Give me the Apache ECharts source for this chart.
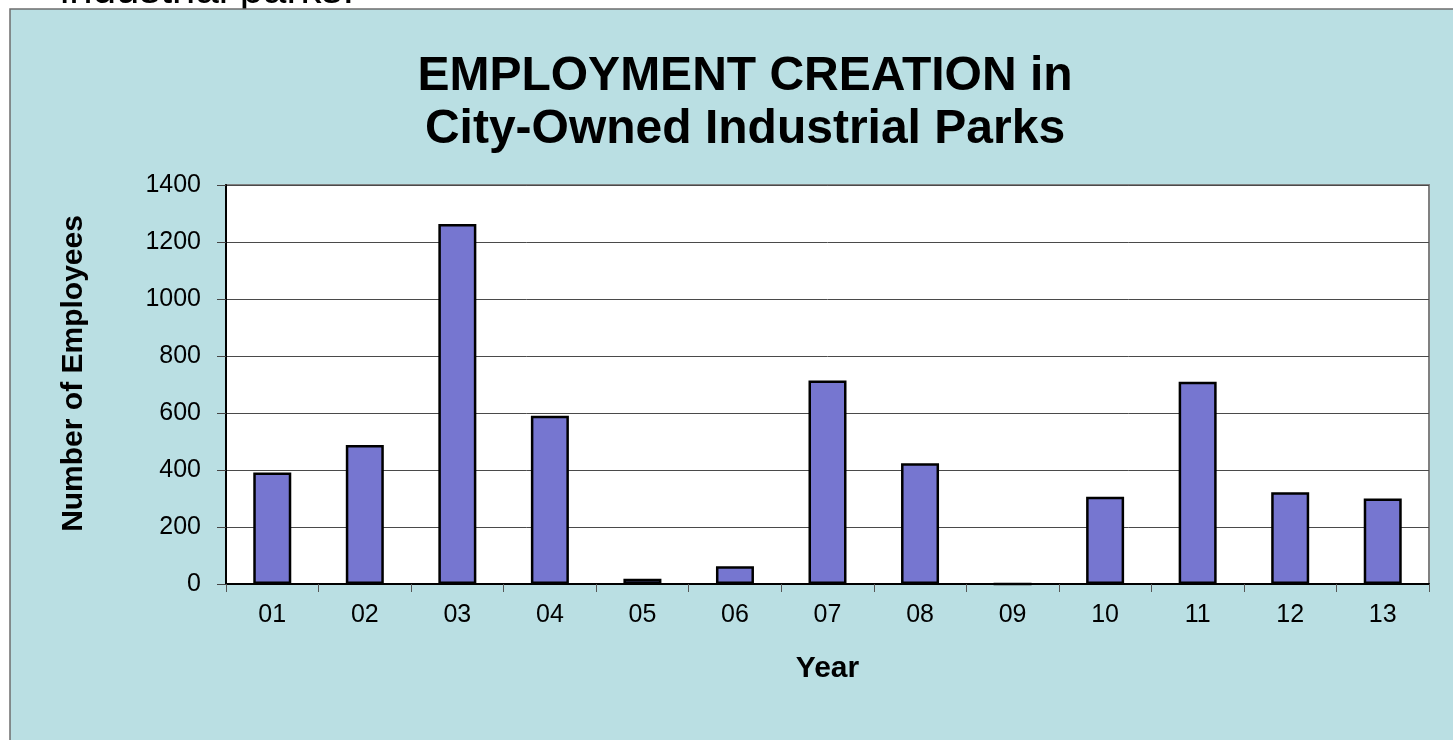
<!DOCTYPE html>
<html>
<head>
<meta charset="utf-8">
<script src="https://cdn.jsdelivr.net/npm/echarts@6/dist/echarts.min.js"></script>
<style>
  html, body { margin: 0; padding: 0; background: #ffffff; }
  #chart { width: 1453px; height: 740px; }
</style>
</head>
<body>
<div id="chart"></div>
<script>
const years = ['01', '02', '03', '04', '05', '06', '07', '08', '09', '10', '11', '12', '13'];
const employees = [391, 488, 1263, 590, 18, 62, 714, 424, 0, 306, 710, 322, 300];
const yTicks = { min: 0, max: 1400, interval: 200 };
const titleLines = ['EMPLOYMENT CREATION in', 'City-Owned Industrial Parks'];
const yName = 'Number of Employees';
const xName = 'Year';
const topText = 'industrial parks.';

const FONT = '"Liberation Sans", Arial, Helvetica, sans-serif';

const chart = echarts.init(document.getElementById('chart'), null, { renderer: 'canvas' });
chart.setOption({
  backgroundColor: '#ffffff',
  animation: false,
  graphic: [
    {
      type: 'text', z: -20, silent: true,
      style: { x: 60, y: 12, text: topText, fontFamily: FONT, fontSize: 42, fill: '#000', verticalAlign: 'bottom' }
    },
    {
      type: 'rect', z: -10, silent: true,
      shape: { x: 10, y: 9, width: 1460, height: 760 },
      style: { fill: '#BADFE3', stroke: '#6e6e6e', lineWidth: 1.5 }
    }
  ],
  title: {
    text: titleLines.join('\n'),
    left: 745,
    textAlign: 'center',
    top: 50,
    padding: 0,
    textStyle: { fontFamily: FONT, fontSize: 48, fontWeight: 'bold', color: '#000', lineHeight: 53 }
  },
  grid: {
    left: 226, top: 185, right: 24, bottom: 156,
    show: true, backgroundColor: '#ffffff', borderColor: '#808080', borderWidth: 2,
    containLabel: false, outerBoundsMode: 'none'
  },
  xAxis: {
    type: 'category',
    data: years,
    boundaryGap: true,
    name: xName,
    nameLocation: 'middle',
    nameGap: 70,
    nameTextStyle: { fontFamily: FONT, fontSize: 30, fontWeight: 'bold', color: '#000' },
    axisLine: { show: true, lineStyle: { color: '#000', width: 2 } },
    axisTick: { show: true, alignWithLabel: false, length: 8, lineStyle: { color: '#555', width: 1 } },
    axisLabel: { margin: 19, fontFamily: FONT, fontSize: 25, color: '#000' },
    splitLine: { show: false }
  },
  yAxis: {
    type: 'value',
    min: yTicks.min, max: yTicks.max, interval: yTicks.interval,
    name: yName,
    nameLocation: 'middle',
    nameGap: 137,
    nameRotate: 90,
    nameTextStyle: { fontFamily: FONT, fontSize: 30, fontWeight: 'bold', color: '#000', padding: [0, 0, 0, 22] },
    axisLine: { show: true, lineStyle: { color: '#000', width: 2 } },
    axisTick: { show: true, length: 9, lineStyle: { color: '#444', width: 1 } },
    axisLabel: { margin: 25, fontFamily: FONT, fontSize: 25, color: '#000', formatter: function (v) { return String(v); } },
    splitLine: { show: true, lineStyle: { color: '#4a4a4a', width: 1 } }
  },
  series: [{
    type: 'bar',
    data: employees,
    barWidth: 38,
    itemStyle: { color: '#7676D0', borderColor: '#000', borderWidth: 2.5 }
  }]
});
</script>
</body>
</html>
